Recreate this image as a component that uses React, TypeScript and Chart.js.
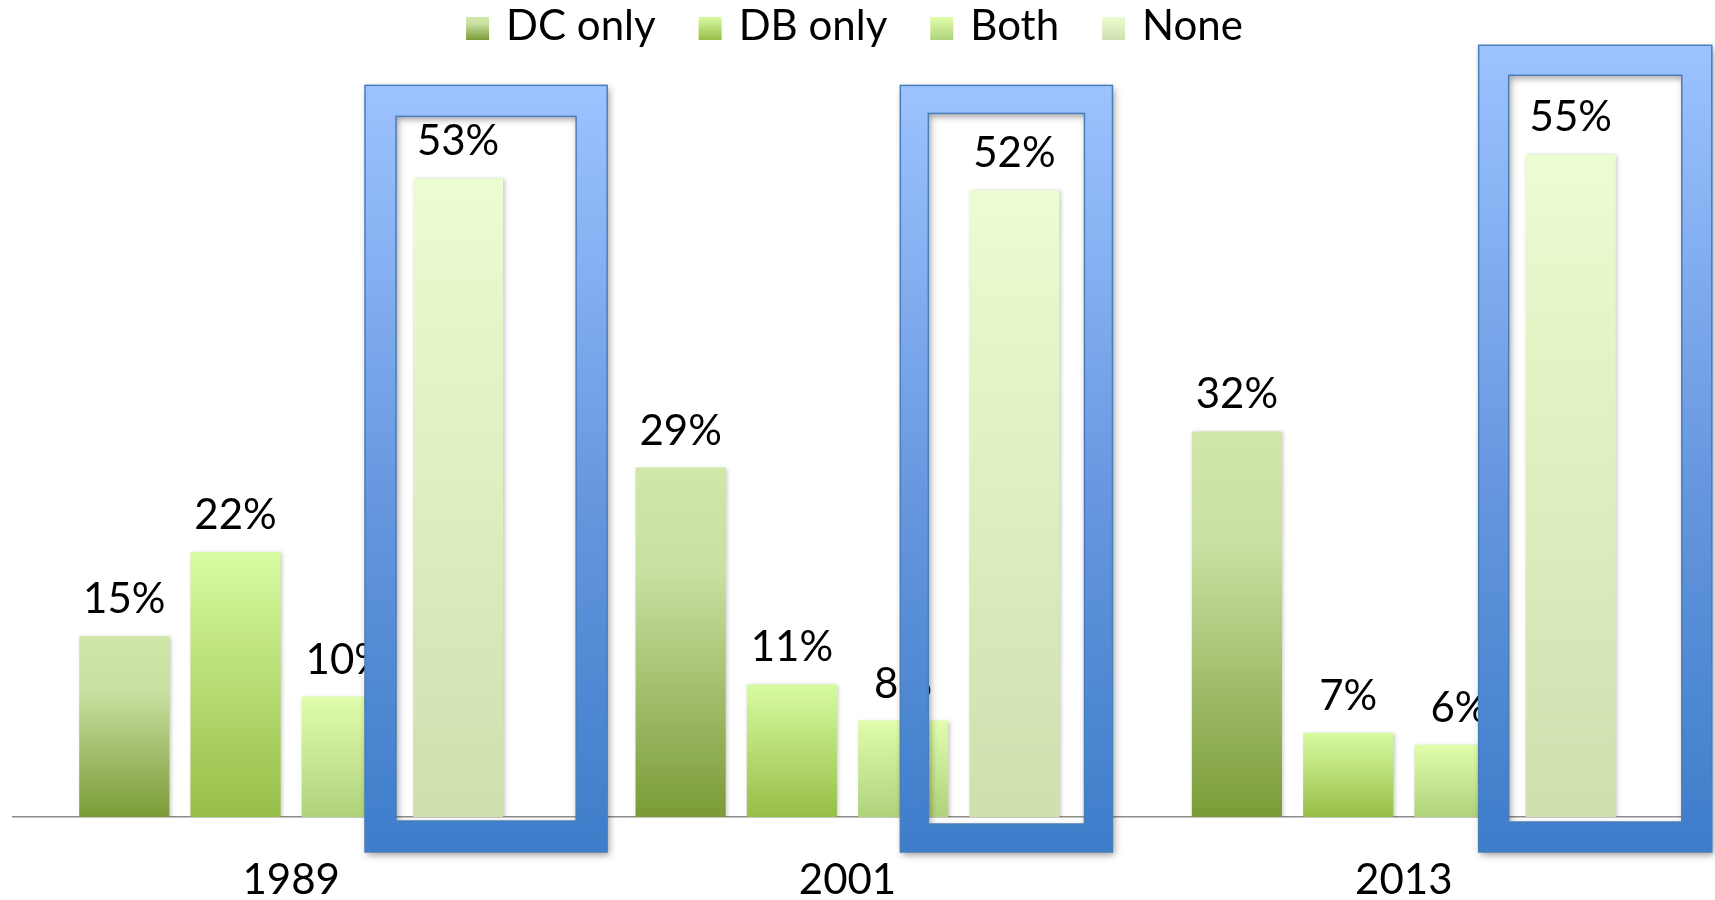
import React, { useEffect, useRef } from "react";
import { Chart, registerables } from "chart.js";

Chart.register(...registerables);

// Share of workers by type of retirement plan
const years = ["1989", "2001", "2013"];
const seriesNames = ["DC only", "DB only", "Both", "None"];
const dcOnly = [15, 29, 32];
const dbOnly = [22, 11, 7];
const both = [10, 8, 6];
const none = [53, 52, 55];
const yMax = 60;

const FONT = "Lato, 'Open Sans', sans-serif";
const FONT_SIZE = 42;

// Vertical gradient stops for each series: [offset, colour], top to bottom
const seriesFills: [number, string][][] = [
  [[0, "#d0e7a9"], [0.3, "#c8e0a0"], [1, "#7b9b37"]],
  [[0, "#d7fba1"], [1, "#97be47"]],
  [[0, "#e0fdab"], [1, "#b0d27b"]],
  [[0, "#ebfdd1"], [1, "#cfdfae"]],
];

// Blue outline frames around the "None" bar of each year.
// Offsets (px) from that bar's edges / the baseline, plus the frame's thickness.
const frameStyle = [
  { left: 48, right: 104, above: 93, below: 35, thickness: 31 },
  { left: 69, right: 53, above: 105, below: 35, thickness: 28 },
  { left: 47, right: 96, above: 109, below: 35, thickness: 30 },
];
const highlightedSeries = 3;

function makeGradient(ctx: CanvasRenderingContext2D, y0: number, y1: number, stops: [number, string][]) {
  const g = ctx.createLinearGradient(0, y0, 0, y1);
  stops.forEach(([o, c]) => g.addColorStop(o, c));
  return g;
}

function barFill(idx: number) {
  return (c: any) => {
    const chart = c.chart;
    const stops = seriesFills[idx];
    if (c.type !== "data" || !chart.chartArea || !chart.scales.y) return stops[stops.length - 1][1];
    const y = chart.scales.y;
    const top = y.getPixelForValue(c.raw);
    const base = y.getPixelForValue(0);
    return makeGradient(chart.ctx, top, base, stops);
  };
}

const barShadow = {
  id: "barShadow",
  beforeDatasetsDraw(chart: any) {
    const ctx = chart.ctx;
    ctx.save();
    ctx.shadowColor = "rgba(0,0,0,0.22)";
    ctx.shadowBlur = 4;
    ctx.shadowOffsetX = 1.5;
    ctx.shadowOffsetY = 1;
  },
  afterDatasetsDraw(chart: any) {
    chart.ctx.restore();
  },
};

const valueLabels = {
  id: "valueLabels",
  afterDatasetsDraw(chart: any) {
    const ctx = chart.ctx;
    ctx.save();
    ctx.font = `${FONT_SIZE}px ${FONT}`;
    ctx.fillStyle = "#000";
    ctx.textAlign = "center";
    ctx.textBaseline = "alphabetic";
    chart.data.datasets.forEach((ds: any, di: number) => {
      const meta = chart.getDatasetMeta(di);
      meta.data.forEach((el: any, i: number) => {
        const { x, y } = el.getProps(["x", "y"], true);
        ctx.fillText(`${ds.data[i]}%`, x, y - 23);
      });
    });
    ctx.restore();
  },
};

const highlightFrames = {
  id: "highlightFrames",
  afterDatasetsDraw(chart: any) {
    const ctx = chart.ctx;
    const meta = chart.getDatasetMeta(highlightedSeries);
    meta.data.forEach((el: any, i: number) => {
      const f = frameStyle[i];
      if (!f) return;
      const { x, y, base, width } = el.getProps(["x", "y", "base", "width"], true);
      const oL = x - width / 2 - f.left;
      const oR = x + width / 2 + f.right;
      const oT = y - f.above;
      const oB = base + f.below;
      const t = f.thickness;
      const iL = oL + t, iR = oR - t, iT = oT + t, iB = oB - t;

      ctx.save();
      ctx.shadowColor = "rgba(0,0,0,0.38)";
      ctx.shadowBlur = 7;
      ctx.shadowOffsetX = 2;
      ctx.shadowOffsetY = 3;
      ctx.beginPath();
      ctx.rect(oL, oT, oR - oL, oB - oT);
      ctx.rect(iL, iT, iR - iL, iB - iT);
      ctx.fillStyle = makeGradient(ctx, oT, oB, [[0, "#9dc3ff"], [0.55, "#6596de"], [1, "#3d7dca"]]);
      ctx.fill("evenodd");
      ctx.restore();

      ctx.save();
      ctx.strokeStyle = "#4a7ebb";
      ctx.lineWidth = 1.5;
      ctx.strokeRect(oL, oT, oR - oL, oB - oT);
      ctx.strokeRect(iL, iT, iR - iL, iB - iT);
      ctx.restore();
    });
  },
};

const topLegend = {
  id: "topLegend",
  afterDraw(chart: any) {
    const ctx = chart.ctx;
    const box = 23;
    const textGap = 17;
    const itemGap = 43;
    const baseline = 40;
    ctx.save();
    ctx.font = `${FONT_SIZE}px ${FONT}`;
    const items = chart.data.datasets.map((ds: any, i: number) => ({
      text: ds.label,
      stops: seriesFills[i],
      w: box + textGap + ctx.measureText(ds.label).width,
    }));
    const total = items.reduce((s: number, it: any) => s + it.w, 0) + itemGap * (items.length - 1);
    let x = chart.width / 2 - total / 2 - 3;
    items.forEach((it: any) => {
      const top = baseline - box;
      ctx.fillStyle = makeGradient(ctx, top, top + box, it.stops);
      ctx.fillRect(x, top, box, box);
      ctx.fillStyle = "#000";
      ctx.textAlign = "left";
      ctx.textBaseline = "alphabetic";
      ctx.fillText(it.text, x + box + textGap, baseline);
      x += it.w + itemGap;
    });
    ctx.restore();
  },
};

export default function App() {
  const canvasRef = useRef<HTMLCanvasElement | null>(null);

  useEffect(() => {
    const canvas = canvasRef.current;
    if (!canvas) return;
    const seriesValues = [dcOnly, dbOnly, both, none];
    const chart = new Chart(canvas, {
      type: "bar",
      data: {
        labels: years,
        datasets: seriesNames.map((name, i) => ({
          label: name,
          data: seriesValues[i],
          backgroundColor: barFill(i),
          borderWidth: 0,
          barPercentage: 0.81,
          categoryPercentage: 0.8,
        })),
      },
      options: {
        responsive: false,
        animation: false,
        devicePixelRatio: 1,
        layout: { padding: { top: 94, left: 13, right: 33, bottom: -43 } },
        plugins: {
          legend: { display: false },
          tooltip: { enabled: false },
        },
        scales: {
          x: {
            grid: { display: false, drawTicks: false },
            border: { display: true, color: "#8c8c8c", width: 1.5 },
            ticks: {
              color: "#000",
              padding: 42,
              font: { family: FONT, size: FONT_SIZE, lineHeight: 1 },
            },
          },
          y: {
            display: false,
            min: 0,
            max: yMax,
          },
        },
      },
      plugins: [barShadow, valueLabels, highlightFrames, topLegend],
    });
    if ((document as any).fonts?.load) {
      (document as any).fonts.load(`${FONT_SIZE}px Lato`).then(() => chart.update()).catch(() => {});
    }
    return () => chart.destroy();
  }, []);

  return (
    <div style={{ position: "fixed", left: 0, top: 0, width: 1715, height: 900, background: "#fff" }}>
      <canvas ref={canvasRef} width={1715} height={900} style={{ display: "block" }} />
    </div>
  );
}
